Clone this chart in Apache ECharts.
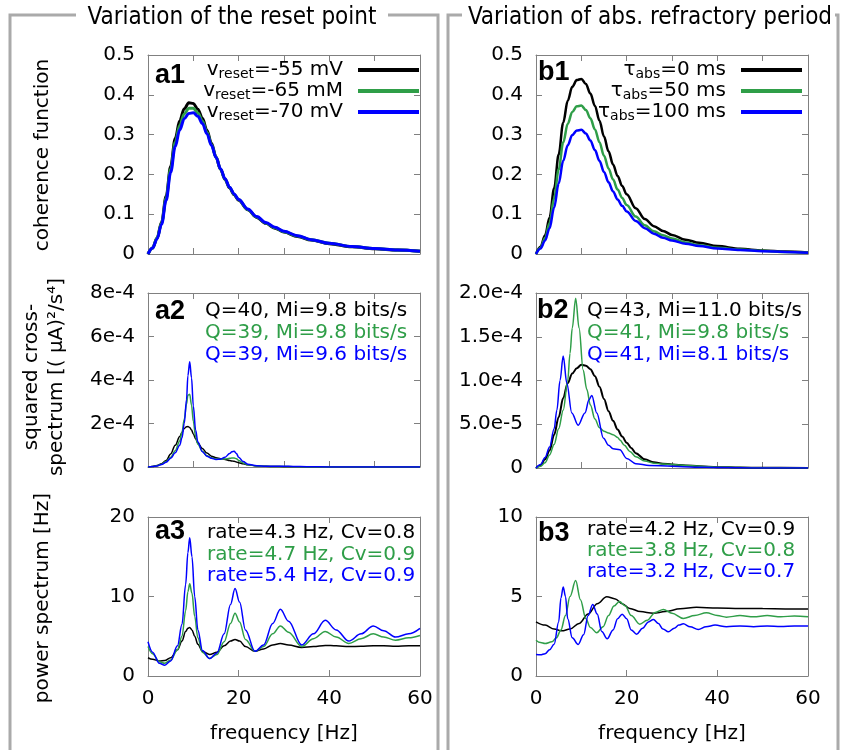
<!DOCTYPE html>
<html><head><meta charset="utf-8">
<script src="https://cdn.jsdelivr.net/npm/echarts@6/dist/echarts.min.js"></script>
<style>html,body{margin:0;padding:0;background:#fff}#c{width:843px;height:750px}</style>
</head><body><div id="c"></div>
<script>
// ---------------- DATA ----------------
// coherence function (a1, b1)
const freqCoh = [0,1,2,3,4,5,6,7,8,9,10,11,12,13,14,15,16,17,18,19,20,22,24,26,28,30,33,36,40,45,50,55,60];
const a1Black = [0,0.015,0.04,0.08,0.145,0.22,0.29,0.335,0.365,0.38,0.378,0.364,0.341,0.311,0.278,0.244,0.213,0.187,0.166,0.149,0.135,0.111,0.092,0.077,0.065,0.055,0.044,0.035,0.026,0.018,0.013,0.01,0.007];
const a1Green = [0,0.015,0.04,0.078,0.14,0.213,0.28,0.323,0.352,0.366,0.366,0.354,0.334,0.306,0.275,0.243,0.213,0.188,0.167,0.15,0.136,0.112,0.093,0.078,0.066,0.056,0.045,0.036,0.027,0.019,0.014,0.01,0.007];
const a1Blue  = [0,0.015,0.038,0.075,0.135,0.205,0.27,0.312,0.34,0.353,0.355,0.346,0.328,0.302,0.273,0.243,0.214,0.189,0.168,0.151,0.137,0.113,0.094,0.079,0.067,0.057,0.046,0.036,0.027,0.019,0.014,0.01,0.007];
const b1Black = [0,0.018,0.047,0.092,0.165,0.25,0.33,0.385,0.42,0.437,0.44,0.427,0.403,0.372,0.335,0.295,0.258,0.225,0.196,0.171,0.15,0.115,0.088,0.07,0.058,0.048,0.036,0.028,0.02,0.013,0.009,0.006,0.004];
const b1Green = [0,0.016,0.04,0.078,0.14,0.212,0.28,0.327,0.357,0.371,0.373,0.362,0.341,0.313,0.281,0.247,0.215,0.187,0.162,0.141,0.123,0.094,0.072,0.057,0.047,0.039,0.029,0.022,0.016,0.011,0.008,0.005,0.003];
const b1Blue  = [0,0.014,0.034,0.065,0.117,0.177,0.234,0.273,0.299,0.31,0.312,0.303,0.285,0.261,0.234,0.206,0.18,0.157,0.137,0.121,0.107,0.083,0.065,0.051,0.041,0.034,0.026,0.02,0.014,0.01,0.007,0.005,0.003];

// squared cross-spectrum, values in units of 1e-4 (μA)^2/s^4
const freqA2 = [0,1,2,3,4,5,6,7,7.5,8,8.5,8.8,9.2,9.6,10,10.5,11,12,13,14,15,16,17,18,18.5,19,19.5,20,21,22,24,26,28,30,32,35,40,50,60];
const a2Black = [0,0.02,0.07,0.15,0.3,0.6,1.0,1.4,1.6,1.77,1.85,1.86,1.82,1.7,1.52,1.3,1.1,0.85,0.64,0.5,0.42,0.38,0.35,0.3,0.28,0.26,0.23,0.2,0.15,0.1,0.05,0.03,0.02,0.015,0.01,0.005,0.003,0,0];
const a2Green = [0,0.02,0.06,0.13,0.25,0.45,0.75,1.2,1.6,2.2,2.9,3.3,3.35,2.85,2.1,1.4,1.05,0.72,0.52,0.42,0.37,0.36,0.37,0.4,0.41,0.41,0.38,0.3,0.18,0.1,0.05,0.03,0.025,0.025,0.015,0.005,0.003,0,0];
const a2Blue  = [0,0.02,0.05,0.12,0.22,0.4,0.65,1.0,1.35,2.0,3.1,4.2,4.84,4.1,2.8,1.7,1.15,0.7,0.5,0.4,0.35,0.36,0.45,0.62,0.7,0.72,0.62,0.45,0.25,0.13,0.06,0.04,0.035,0.04,0.025,0.01,0.005,0,0];
const b2FreqBlack = [0,1,2,3,4,5,6,7,8,9,10,11,12,13,14,15,16,17,18,19,20,21,22,24,26,28,30,33,36,40,45,50,60];
const b2Black = [0,0.03,0.1,0.2,0.38,0.58,0.8,0.97,1.08,1.14,1.18,1.17,1.13,1.05,0.93,0.79,0.65,0.54,0.44,0.36,0.29,0.23,0.17,0.1,0.065,0.05,0.04,0.03,0.02,0.01,0.005,0.003,0];
const b2FreqGreen = [0,1,2,3,4,5,6,7,7.5,8,8.75,9.5,10.4,11.2,12,13,14,15,16,17,18,18.5,19.5,20.7,22,24,26,28,30,33,36,40,45,50,60];
const b2Green = [0,0.02,0.06,0.15,0.27,0.45,0.66,1.0,1.31,1.6,1.94,1.6,1.12,0.9,0.72,0.56,0.46,0.42,0.4,0.38,0.35,0.32,0.26,0.19,0.13,0.08,0.055,0.045,0.04,0.03,0.02,0.01,0.005,0.003,0];
const b2FreqBlue = [0,1,2,3,4,4.6,5.3,6,6.8,7.9,9.3,10.8,11.7,12.3,13.4,14.9,16,17,18.5,20,22,25,30,35,40,50,60];
const b2Blue = [0,0.04,0.12,0.24,0.45,0.66,1.0,1.28,0.97,0.63,0.49,0.63,0.78,0.83,0.63,0.34,0.26,0.22,0.21,0.11,0.05,0.03,0.02,0.01,0.005,0,0];

// power spectrum [Hz]
const freqA3 = [0,1,2.5,3.7,5,6.5,7.5,8.3,8.8,9.2,9.7,10.3,11,12,13.6,15.2,16.8,18.2,19.2,20.2,21.5,23.6,25.5,27.5,29.2,31,33.9,36.5,39.1,41.5,44.3,47,49.7,52,54.6,57.5,60];
const a3Black = [2.3,2.1,1.9,1.95,2.3,3.3,4.4,5.6,6.0,6.1,5.8,5.0,4.0,3.1,2.7,3.0,3.8,4.4,4.6,4.4,3.7,3.1,3.4,3.9,4.1,3.9,3.6,3.7,3.85,3.8,3.7,3.75,3.8,3.8,3.75,3.8,3.8];
const a3Green = [3.7,2.8,1.8,1.6,2.0,3.3,5.0,8.2,10.6,11.6,10.4,7.5,4.8,3.0,2.2,2.7,4.3,6.6,7.9,6.8,4.6,3.1,3.7,5.3,6.3,5.5,3.7,4.7,5.6,4.9,4.1,4.7,5.3,4.9,4.5,4.8,5.1];
const a3Blue  = [4.3,3.0,1.6,1.35,1.9,3.8,6.5,11.5,15.5,17.4,15.0,10.0,5.8,3.2,2.2,2.9,5.3,9.0,11.0,9.3,5.8,3.1,3.9,6.6,8.4,6.9,3.9,5.3,7.0,5.8,4.4,5.3,6.3,5.7,4.9,5.3,6.0];
const b3FreqBlack = [0,2,4,5.7,7.5,9.5,11.5,13.5,15.6,17.5,19,20.7,23,25.9,28.5,31.8,35.4,40,45,50,55,60];
const b3Black = [3.41,3.2,2.95,2.84,2.95,3.3,3.9,4.55,4.99,4.85,4.55,4.25,4.05,3.95,4.05,4.23,4.32,4.28,4.25,4.24,4.22,4.21];
const b3FreqGreen = [0,1,2,3.5,4.5,5.5,6.5,7.5,8.75,9.8,11,12,13.4,14.8,16,17.2,18.4,19.7,21,22.9,24.5,26.3,28.1,30,32.5,35,37.6,40,42,45,48,51,54,57,60];
const b3Green = [2.25,2.1,2.04,2.15,2.4,2.9,3.8,5.0,6.0,4.8,3.6,3.05,2.72,3.1,3.8,4.4,4.68,4.4,3.8,3.26,3.5,4.0,4.19,3.95,3.62,3.8,3.98,3.8,3.7,3.8,3.72,3.8,3.72,3.78,3.73];
const b3FreqBlue = [0,1,2,3,4,5,5.5,6,6.5,7,8,9.3,10.5,11.5,12.5,13.5,14.5,15.7,17,18,19,20,21,22.2,23.5,24.8,25.9,27,28,29.2,30.5,31.5,32.5,34,35.8,37.5,39.5,42,45,48,51,54,57,60];
const b3Blue = [1.35,1.33,1.4,1.65,2.0,3.4,4.9,5.6,5.0,3.6,2.4,1.98,2.6,3.8,4.5,3.9,2.8,2.34,2.9,3.6,3.89,3.6,2.9,2.63,3.0,3.4,3.56,3.3,2.95,2.78,3.0,3.2,3.28,3.1,2.93,3.1,3.2,3.1,3.15,3.1,3.15,3.12,3.15,3.14];

// labels
const legendA1 = ['v_reset=-55 mV','v_reset=-65 mM','v_reset=-70 mV'];
const legendB1 = ['τ_abs=0 ms','τ_abs=50 ms','τ_abs=100 ms'];
const textA2 = ['Q=40, Mi=9.8 bits/s','Q=39, Mi=9.8 bits/s','Q=39, Mi=9.6 bits/s'];
const textB2 = ['Q=43, Mi=11.0 bits/s','Q=41, Mi=9.8 bits/s','Q=41, Mi=8.1 bits/s'];
const textA3 = ['rate=4.3 Hz, Cv=0.8','rate=4.7 Hz, Cv=0.9','rate=5.4 Hz, Cv=0.9'];
const textB3 = ['rate=4.2 Hz, Cv=0.9','rate=3.8 Hz, Cv=0.8','rate=3.2 Hz, Cv=0.7'];
const panelLabels = ['a1','a2','a3','b1','b2','b3'];
const colTitles = ['Variation of the reset point','Variation of abs. refractory period'];
const yTitles = ['coherence function','squared cross-','spectrum [( μA)²/s⁴]','power spectrum [Hz]'];
const xTitle = 'frequency [Hz]';

// ---------------- CHART ----------------
const FONT = "'DejaVu Sans', sans-serif";
const AX = '#808080';
const COLORS = ['#000000', '#2f9e48', '#0000ff'];
const grids = [
  {left:148, top:55,  width:272, height:199},
  {left:148, top:293, width:272, height:174},
  {left:148, top:517, width:272, height:159},
  {left:536, top:55,  width:272, height:199},
  {left:536, top:293, width:272, height:175},
  {left:536, top:517, width:272, height:159}
];
const yCfg = [
  {max:0.5, interval:0.1, fmt:v=>String(+v.toFixed(1))},
  {max:8, interval:2, fmt:v=>v===0?'0':(v*1e-4).toExponential(0)},
  {max:20, interval:10, fmt:v=>String(v)},
  {max:0.5, interval:0.1, fmt:v=>String(+v.toFixed(1))},
  {max:2, interval:0.5, fmt:v=>v===0?'0':(v*1e-4).toExponential(1)},
  {max:10, interval:5, fmt:v=>String(v)}
];
const xAxes = [], yAxes = [];
grids.forEach((g, i) => {
  const bottomRow = (i === 2 || i === 5);
  const xInt = bottomRow ? 20 : 10;
  const line = {show:true, onZero:false, lineStyle:{color:AX, width:1}};
  const tick = {show:true, inside:true, length:6, lineStyle:{color:AX, width:1}};
  xAxes.push({gridIndex:i, type:'value', min:0, max:60, interval:xInt, position:'bottom',
    axisLine:line, axisTick:tick, splitLine:{show:false},
    axisLabel:{show:bottomRow, margin:13, color:'#000', fontFamily:FONT, fontSize:20},
    name: bottomRow ? xTitle : '', nameLocation:'middle', nameGap:48,
    nameTextStyle:{color:'#000', fontFamily:FONT, fontSize:20}});
  xAxes.push({gridIndex:i, type:'value', min:0, max:60, interval:xInt, position:'top',
    axisLine:line, axisTick:tick, splitLine:{show:false}, axisLabel:{show:false}});
  const c = yCfg[i];
  yAxes.push({gridIndex:i, type:'value', min:0, max:c.max, interval:c.interval, position:'left',
    axisLine:line, axisTick:tick, splitLine:{show:false},
    axisLabel:{margin:13, color:'#000', fontFamily:FONT, fontSize:20, formatter:c.fmt}});
  yAxes.push({gridIndex:i, type:'value', min:0, max:c.max, interval:c.interval, position:'right',
    axisLine:line, axisTick:tick, splitLine:{show:false}, axisLabel:{show:false}});
});

function mk(name, xs, ys, color, width, g) {
  return {type:'line', name, xAxisIndex:2*g, yAxisIndex:2*g,
    data: xs.map((x, k) => [x, ys[k]]), symbol:'none', showSymbol:false,
    smooth:0.35, smoothMonotone:'x', clip:true, animation:false,
    lineStyle:{color, width}, itemStyle:{color}, emphasis:{disabled:true}};
}
const series = [
  mk(legendA1[0], freqCoh, a1Black, COLORS[0], 3, 0),
  mk(legendA1[1], freqCoh, a1Green, COLORS[1], 3, 0),
  mk(legendA1[2], freqCoh, a1Blue,  COLORS[2], 3, 0),
  mk('a2k', freqA2, a2Black, COLORS[0], 1.5, 1),
  mk('a2g', freqA2, a2Green, COLORS[1], 1.5, 1),
  mk('a2b', freqA2, a2Blue,  COLORS[2], 1.5, 1),
  mk('a3k', freqA3, a3Black, COLORS[0], 1.5, 2),
  mk('a3g', freqA3, a3Green, COLORS[1], 1.5, 2),
  mk('a3b', freqA3, a3Blue,  COLORS[2], 1.5, 2),
  mk(legendB1[0], freqCoh, b1Black, COLORS[0], 2.5, 3),
  mk(legendB1[1], freqCoh, b1Green, COLORS[1], 2.5, 3),
  mk(legendB1[2], freqCoh, b1Blue,  COLORS[2], 2.5, 3),
  mk('b2k', b2FreqBlack, b2Black, COLORS[0], 2, 4),
  mk('b2g', b2FreqGreen, b2Green, COLORS[1], 1.5, 4),
  mk('b2b', b2FreqBlue,  b2Blue,  COLORS[2], 1.5, 4),
  mk('b3k', b3FreqBlack, b3Black, COLORS[0], 1.5, 5),
  mk('b3g', b3FreqGreen, b3Green, COLORS[1], 1.5, 5),
  mk('b3b', b3FreqBlue,  b3Blue,  COLORS[2], 1.5, 5)
];

const rich = {
  n:{fontFamily:FONT, fontSize:20, lineHeight:22, color:'#000'},
  s:{fontFamily:FONT, fontSize:14, lineHeight:8, verticalAlign:'bottom', color:'#000'},
  g:{width:10}
};
function legFmt(name) {
  const m = name.match(/^(.)_([a-z]+)(.*)$/);
  return '{n|' + m[1] + '}{s|' + m[2] + '}{n|' + m[3] + '}{g| }';
}
function mkLegend(data, right) {
  return {data: data.map(d => ({name:d, icon:'rect'})), orient:'vertical', right, top:60, align:'right',
    itemWidth:61, itemHeight:4, itemGap:0, padding:0, selectedMode:false,
    formatter:legFmt, textStyle:{rich, fontFamily:FONT, fontSize:20, color:'#000'}};
}

const graphic = [];
const FR = '#aaaaaa';
// column frames
graphic.push({type:'polyline', shape:{points:[[10,750],[10,15],[76,15]]}, style:{stroke:FR, lineWidth:3, fill:null}});
graphic.push({type:'polyline', shape:{points:[[388,15],[438,15],[438,750]]}, style:{stroke:FR, lineWidth:3, fill:null}});
graphic.push({type:'polyline', shape:{points:[[448,750],[448,15],[462,15]]}, style:{stroke:FR, lineWidth:3, fill:null}});
graphic.push({type:'polyline', shape:{points:[[835,15],[838,15],[838,750]]}, style:{stroke:FR, lineWidth:3, fill:null}});
// column titles
const TFONT = "'DejaVu Sans Condensed', 'DejaVu Sans', sans-serif";
graphic.push({type:'text', x:232, y:18, style:{text:colTitles[0], fill:'#000', font:"24px " + TFONT, align:'center', verticalAlign:'middle'}});
graphic.push({type:'text', x:650, y:18, style:{text:colTitles[1], fill:'#000', font:"24px " + TFONT, align:'center', verticalAlign:'middle'}});
// y-axis titles (rotated)
function rot(text, x, y) {
  return {type:'text', x, y, rotation:Math.PI/2, style:{text, fill:'#000', font:"20px " + FONT, align:'center', verticalAlign:'middle'}};
}
graphic.push(rot(yTitles[0], 43, 155));
graphic.push(rot(yTitles[1], 32, 377));
graphic.push(rot(yTitles[2], 57, 377));
graphic.push(rot(yTitles[3], 43, 598));
// panel labels
const LFONT = "bold 27px 'Liberation Sans', Arial, sans-serif";
const labelPos = [[155,76],[155,312],[155,532],[538,73],[537,311],[538,534]];
panelLabels.forEach((t, i) => graphic.push({type:'text', x:labelPos[i][0], y:labelPos[i][1], z:100,
  style:{text:t, fill:'#000', font:LFONT, align:'left', verticalAlign:'middle'}}));
// annotation texts
function ann(lines, x, ys) {
  lines.forEach((t, i) => graphic.push({type:'text', x, y:ys[i], z:100,
    style:{text:t, fill:COLORS[i], font:"20px " + FONT, align:'left', verticalAlign:'middle'}}));
}
ann(textA2, 205, [311, 333, 355]);
ann(textB2, 587, [311, 333, 355]);
ann(textA3, 207, [533, 555, 576]);
ann(textB3, 587, [530, 551, 572]);

const chart = echarts.init(document.getElementById('c'), null, {renderer:'canvas'});
chart.setOption({
  backgroundColor:'#ffffff',
  animation:false,
  grid: grids,
  xAxis: xAxes,
  yAxis: yAxes,
  legend: [mkLegend(legendA1, 424), mkLegend(legendB1, 41)],
  series,
  graphic
});
</script></body></html>
